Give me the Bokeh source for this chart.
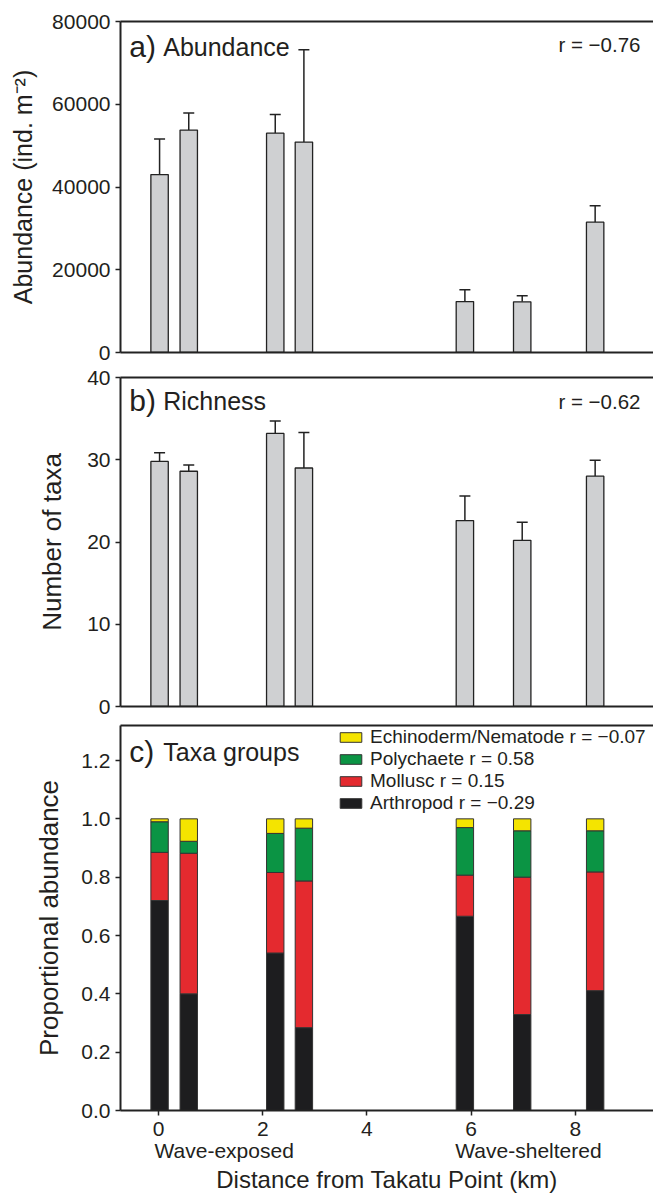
from bokeh.plotting import figure
from bokeh.layouts import column
from bokeh.models import (Range1d, FixedTicker, LinearAxis, Whisker, TeeHead, ColumnDataSource,
                          Label, PrintfTickFormatter, NumeralTickFormatter)
from bokeh.embed import file_html
from bokeh.resources import INLINE

# ---------------- data ----------------
sites = [0.02, 0.58, 2.24, 2.79, 5.88, 6.98, 8.38]          # distance (km)
abundance = [43000, 53750, 53000, 50850, 12300, 12250, 31500]
abundance_se = [8600, 4150, 4500, 22350, 2850, 1450, 3950]
richness = [29.8, 28.6, 33.2, 29.0, 22.6, 20.2, 28.0]
richness_se = [1.05, 0.75, 1.5, 4.3, 3.0, 2.2, 1.95]
arthropod = [0.72, 0.40, 0.54, 0.284, 0.666, 0.329, 0.411]
mollusc = [0.165, 0.482, 0.276, 0.503, 0.141, 0.471, 0.407]
polychaete = [0.105, 0.041, 0.134, 0.181, 0.163, 0.159, 0.141]
echino = [0.010, 0.077, 0.050, 0.032, 0.030, 0.041, 0.041]
groups = ["arthropod", "mollusc", "polychaete", "echino"]
group_labels = ["Arthropod r = \u22120.29", "Mollusc r = 0.15",
                "Polychaete r = 0.58", "Echinoderm/Nematode r = \u22120.07"]
x_ticks = [0, 2, 4, 6, 8]
site_labels = ["Wave-exposed", "Wave-sheltered"]
site_label_pos = [1.26, 7.1]

FONT = "Liberation Sans"
TXT = "#231f20"
LINE = "#222222"
BAR_W = 0.334
FRAME_W = 533


def base_fig(frame_h, y0, y1, top, bottom):
    p = figure(frame_width=FRAME_W, frame_height=frame_h, output_backend="svg",
               toolbar_location=None, x_range=Range1d(-0.73, 9.5), y_range=Range1d(y0, y1),
               min_border_left=120, min_border_right=0, min_border_top=top,
               min_border_bottom=bottom)
    p.outline_line_color = None
    p.grid.visible = False
    p.background_fill_color = "white"
    p.border_fill_color = "white"
    top_ax = LinearAxis(ticker=FixedTicker(ticks=[]), major_label_text_font_size="0px",
                        axis_line_width=2, axis_line_color=LINE,
                        major_tick_line_color=None, minor_tick_line_color=None)
    p.add_layout(top_ax, "above")
    for ax in p.yaxis:
        ax.axis_line_width = 2
        ax.axis_line_color = LINE
        ax.major_tick_line_color = LINE
        ax.major_tick_line_width = 1.5
        ax.major_tick_out = 5
        ax.major_tick_in = 0
        ax.minor_tick_line_color = None
        ax.major_label_text_font = FONT
        ax.major_label_text_font_size = "21px"
        ax.major_label_text_color = TXT
        ax.major_label_standoff = 5
        ax.axis_label_text_font = FONT
        ax.axis_label_text_font_size = "26px"
        ax.axis_label_text_font_style = "normal"
        ax.axis_label_text_color = TXT
    for ax in p.xaxis:
        ax.axis_line_width = 2
        ax.axis_line_color = LINE
        ax.minor_tick_line_color = None
    return p


def no_x_ticks(p):
    p.below[0].ticker = FixedTicker(ticks=[])
    p.below[0].major_label_text_font_size = "0px"
    p.below[0].major_tick_line_color = None


def add_title(p, letter, word, y, r_text=None, r_y=None):
    p.add_layout(Label(x=-0.56, y=y, text=letter, text_font=FONT, text_font_size="30px",
                       text_color=TXT, text_baseline="alphabetic"))
    p.add_layout(Label(x=0.09, y=y, text=word, text_font=FONT, text_font_size="25px",
                       text_color=TXT, text_baseline="alphabetic"))
    if r_text:
        p.add_layout(Label(x=9.25, y=r_y, text=r_text, text_font=FONT, text_font_size="20.5px",
                           text_color=TXT, text_align="right", text_baseline="alphabetic"))


# ---------------- panel a ----------------
pa = base_fig(331, 0, 80000, 21, 12)
no_x_ticks(pa)
pa.yaxis.ticker = FixedTicker(ticks=[0, 20000, 40000, 60000, 80000])
pa.yaxis.formatter = NumeralTickFormatter(format="0")
pa.yaxis.axis_label = "Abundance (ind. m\u207b\u00b2)"
pa.yaxis.axis_label_text_font_size = "25px"
pa.yaxis.axis_label_standoff = 12
src_a = ColumnDataSource(dict(x=sites, top=abundance,
                              upper=[a + e for a, e in zip(abundance, abundance_se)]))
pa.vbar(x="x", top="top", width=BAR_W, source=src_a, fill_color="#cfd0d2",
        line_color=LINE, line_width=1.3)
pa.add_layout(Whisker(base="x", lower="top", upper="upper", source=src_a,
                      line_color=LINE, line_width=1.5, lower_head=None,
                      upper_head=TeeHead(size=11, line_color=LINE, line_width=1.5)))
add_title(pa, "a)", "Abundance", 73900, "r = \u22120.76", 74500)

# ---------------- panel b ----------------
pb = base_fig(329, 0, 40, 13, 12)
no_x_ticks(pb)
pb.yaxis.ticker = FixedTicker(ticks=[0, 10, 20, 30, 40])
pb.yaxis.axis_label = "Number of taxa"
pb.yaxis.axis_label_standoff = 17
src_b = ColumnDataSource(dict(x=sites, top=richness,
                              upper=[a + e for a, e in zip(richness, richness_se)]))
pb.vbar(x="x", top="top", width=BAR_W, source=src_b, fill_color="#cfd0d2",
        line_color=LINE, line_width=1.3)
pb.add_layout(Whisker(base="x", lower="top", upper="upper", source=src_b,
                      line_color=LINE, line_width=1.5, lower_head=None,
                      upper_head=TeeHead(size=11, line_color=LINE, line_width=1.5)))
add_title(pb, "b)", "Richness", 37.2, "r = \u22120.62", 37.1)

# ---------------- panel c ----------------
pc = base_fig(385, 0, 1.32, 7, 0)
pc.yaxis.ticker = FixedTicker(ticks=[0, 0.2, 0.4, 0.6, 0.8, 1.0, 1.2])
pc.yaxis.formatter = PrintfTickFormatter(format="%.1f")
pc.yaxis.axis_label = "Proportional abundance"
pc.yaxis.axis_label_standoff = 14
xa = pc.below[0]
xa.ticker = FixedTicker(ticks=x_ticks)
xa.major_tick_line_color = LINE
xa.major_tick_line_width = 1.5
xa.major_tick_out = 5
xa.major_tick_in = 0
xa.major_label_text_font = FONT
xa.major_label_text_font_size = "21px"
xa.major_label_text_color = TXT
xa.major_label_standoff = 6
xb = LinearAxis(ticker=FixedTicker(ticks=site_label_pos),
                major_label_overrides={site_label_pos[0]: site_labels[0],
                                       site_label_pos[1]: site_labels[1]},
                axis_line_color=None, major_tick_line_color=None, minor_tick_line_color=None,
                major_tick_in=0, major_tick_out=0,
                major_label_text_font=FONT, major_label_text_font_size="21px",
                major_label_text_color=TXT, major_label_standoff=0,
                axis_label="Distance from Takatu Point (km)", axis_label_text_font=FONT,
                axis_label_text_font_size="24px", axis_label_text_font_style="normal",
                axis_label_text_color=TXT, axis_label_standoff=1)
pc.add_layout(xb, "below")

src_c = ColumnDataSource(dict(x=sites, arthropod=arthropod, mollusc=mollusc,
                              polychaete=polychaete, echino=echino))
rs = pc.vbar_stack(groups, x="x", width=BAR_W, source=src_c,
                   color=["#1d1d1f", "#e42a2f", "#0b9444", "#f4e400"],
                   line_color="#333333", line_width=1.0, legend_label=group_labels)
for r in rs:
    r.glyph.line_color = "#333333"
leg = pc.legend[0]
leg.items = list(reversed(leg.items))
leg.location = (217, 296)
leg.padding = 0
leg.margin = 0
leg.spacing = 0
leg.glyph_width = 27
leg.glyph_height = 12
leg.label_height = 20
leg.label_standoff = 6
leg.label_text_font = FONT
leg.label_text_font_size = "19px"
leg.label_text_color = TXT
leg.background_fill_alpha = 0
leg.border_line_color = None
add_title(pc, "c)", "Taxa groups", 1.23)

layout = column(pa, pb, pc, spacing=0)
open("out.html", "w").write(file_html(layout, INLINE))
